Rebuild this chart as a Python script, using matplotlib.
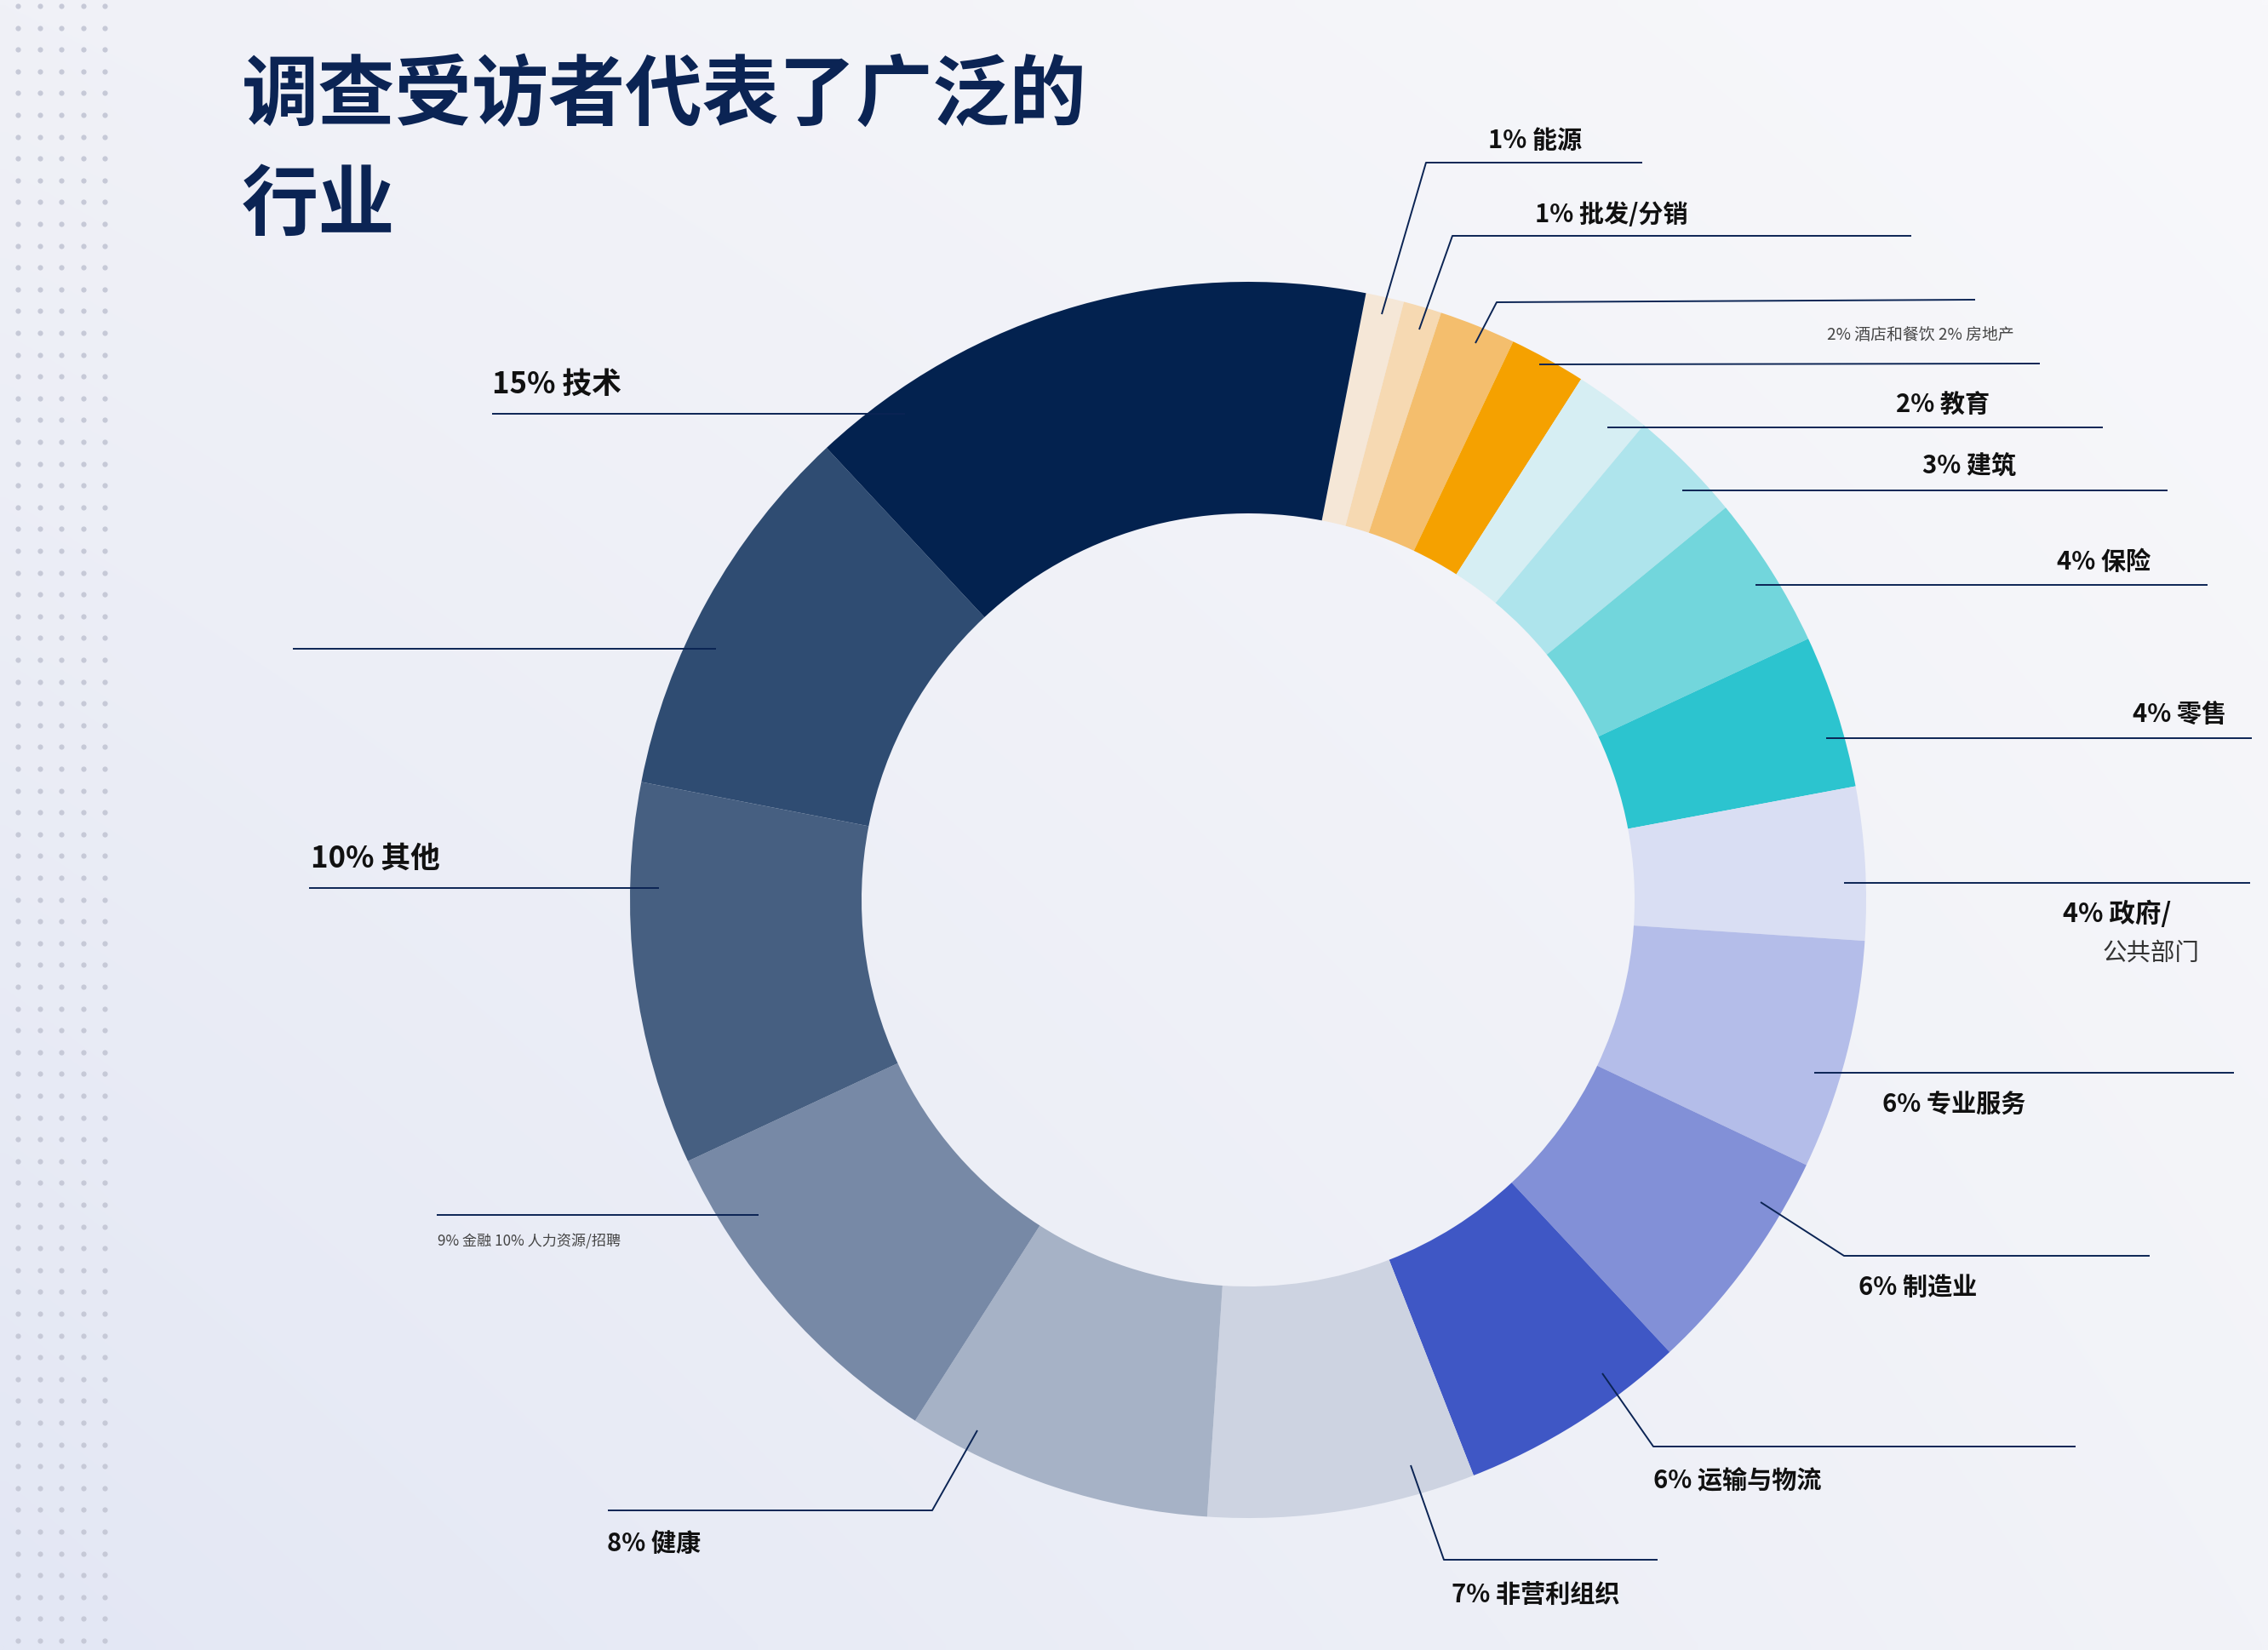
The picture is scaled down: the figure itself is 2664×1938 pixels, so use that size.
import matplotlib
matplotlib.use("Agg")
import matplotlib.pyplot as plt
import numpy as np

W, H = 2664, 1938
CJK = ["Noto Sans CJK SC", "DejaVu Sans"]
NAVY = "#0b2454"

TITLE_LINES = ["调查受访者代表了广泛的", "行业"]

# clockwise from the top, starting just right of 12 o'clock
INDUSTRIES = ["能源", "批发/分销", "酒店和餐饮", "房地产", "教育", "建筑", "保险",
              "零售", "政府/公共部门", "专业服务", "制造业", "运输与物流",
              "非营利组织", "健康", "金融", "其他", "人力资源/招聘", "技术"]
SHARES = [1, 1, 2, 2, 2, 3, 4, 4, 4, 6, 6, 6, 7, 8, 9, 10, 10, 15]
COLORS = ["#f5e7d7", "#f6d9b2", "#f4be6d", "#f5a100", "#d6eef3", "#aee4ec",
          "#72d6dc", "#2cc4cf", "#d9def3", "#b4bde9", "#8290d7", "#3f57c5",
          "#cdd3e1", "#a6b2c6", "#7789a6", "#465f81", "#2f4c72", "#03224f"]

# donut geometry in image pixels
CX, CY, R_OUT, R_IN = 1466, 1057, 726, 454
START = 79  # degrees, where the first wedge begins

# leader lines (image pixels), keyed by industry
LEADERS = {
    "能源": [(1623, 369), (1675, 191), (1929, 191)],
    "批发/分销": [(1667, 387), (1706, 277), (2245, 277)],
    "酒店和餐饮": [(1733, 403), (1758, 355), (2320, 352)],
    "房地产": [(1808, 428), (2396, 427)],
    "教育": [(1888, 502), (2470, 502)],
    "建筑": [(1976, 576), (2546, 576)],
    "保险": [(2062, 687), (2593, 687)],
    "零售": [(2145, 867), (2645, 867)],
    "政府/公共部门": [(2166, 1037), (2643, 1037)],
    "专业服务": [(2131, 1260), (2624, 1260)],
    "制造业": [(2068, 1412), (2166, 1475), (2525, 1475)],
    "运输与物流": [(1882, 1613), (1942, 1699), (2438, 1699)],
    "非营利组织": [(1657, 1721), (1696, 1832), (1947, 1832)],
    "健康": [(1148, 1680), (1095, 1774), (714, 1774)],
    "金融": [(891, 1427), (513, 1427)],
    "其他": [(774, 1043), (363, 1043)],
    "人力资源/招聘": [(841, 762), (344, 762)],
    "技术": [(1063, 486), (578, 486)],
}

# bold labels: industry -> (x, y, ha, size)
LABEL_POS = {
    "能源": (1803, 165, "center", 21),
    "批发/分销": (1893, 252, "center", 21),
    "教育": (2282, 476, "center", 21),
    "建筑": (2313, 548, "center", 21),
    "保险": (2471, 660, "center", 21),
    "零售": (2560, 839, "center", 21),
    "专业服务": (2211, 1298, "left", 21),
    "制造业": (2183, 1512, "left", 21),
    "运输与物流": (1942, 1739, "left", 21),
    "非营利组织": (1705, 1873, "left", 21),
    "健康": (713, 1813, "left", 21),
    "其他": (365, 1008, "left", 25),
    "技术": (578, 451, "left", 25),
}

share = dict(zip(INDUSTRIES, SHARES))

fig = plt.figure(figsize=(W / 100, H / 100), dpi=100)
ax = fig.add_axes([0, 0, 1, 1])

# background: soft diagonal gradient
gx = np.linspace(0, 1, 200)
gy = np.linspace(0, 1, 150)
GX, GY = np.meshgrid(gx, gy)
tl, tr = np.array([0xf0, 0xf1, 0xf7]), np.array([0xf8, 0xf8, 0xfb])
bl, br = np.array([0xe3, 0xe7, 0xf4]), np.array([0xf2, 0xf3, 0xf8])
grad = ((1 - GX)[..., None] * (1 - GY)[..., None] * tl + GX[..., None] * (1 - GY)[..., None] * tr
        + (1 - GX)[..., None] * GY[..., None] * bl + GX[..., None] * GY[..., None] * br) / 255
ax.imshow(grad, extent=(0, W, H, 0), aspect="auto", zorder=0, interpolation="bilinear")

# dotted strip on the left edge
dx = 21 + 25.6 * np.arange(5)
dy = np.arange(7, H + 10, 25.6)
DX, DY = np.meshgrid(dx, dy)
ax.scatter(DX.ravel(), DY.ravel(), s=20, color="#c6c9d7", linewidths=0, zorder=1)

# donut (y axis is inverted, so counterclock=True draws clockwise on screen)
ax.pie(SHARES, colors=COLORS, startangle=-START, counterclock=True,
       center=(CX, CY), radius=R_OUT,
       wedgeprops=dict(width=R_OUT - R_IN, linewidth=0, edgecolor="none"))
for p in ax.patches:
    p.set_zorder(2)

ax.set_xlim(0, W)
ax.set_ylim(H, 0)
ax.set_aspect("equal")
ax.axis("off")

for name, pts in LEADERS.items():
    xs, ys = zip(*pts)
    ax.plot(xs, ys, color=NAVY, lw=1.4, zorder=3, solid_capstyle="butt")

for name, (x, y, ha, size) in LABEL_POS.items():
    ax.text(x, y, f"{share[name]}% {name}", ha=ha, va="center", fontsize=size,
            fontweight="bold", color="#111111", family=CJK, zorder=4)

# government label split over two lines
gov_a, gov_b = "政府/公共部门".split("/")
ax.text(2423, 1074, f"{share['政府/公共部门']}% {gov_a}/", ha="left", va="center",
        fontsize=22, fontweight="bold", color="#111111", family=CJK, zorder=4)
ax.text(2470, 1120, gov_b, ha="left", va="center", fontsize=20.5,
        fontweight="light", color="#333333", family=CJK, zorder=4)

# small combined labels
ax.text(2146, 393, f"{share['酒店和餐饮']}% 酒店和餐饮 {share['房地产']}% 房地产",
        ha="left", va="center", fontsize=13.6, fontweight="light", color="#444444",
        family=CJK, zorder=4)
ax.text(514, 1458, f"{share['金融']}% 金融 {share['人力资源/招聘']}% 人力资源/招聘",
        ha="left", va="center", fontsize=12.3, fontweight="light", color="#444444",
        family=CJK, zorder=4)

# title
ax.text(284, 113, TITLE_LINES[0], ha="left", va="center", fontsize=65,
        fontweight="black", color=NAVY, family=CJK, zorder=4)
ax.text(284, 242, TITLE_LINES[1], ha="left", va="center", fontsize=65,
        fontweight="black", color=NAVY, family=CJK, zorder=4)

fig.savefig("out.png", dpi=100)
plt.close(fig)
